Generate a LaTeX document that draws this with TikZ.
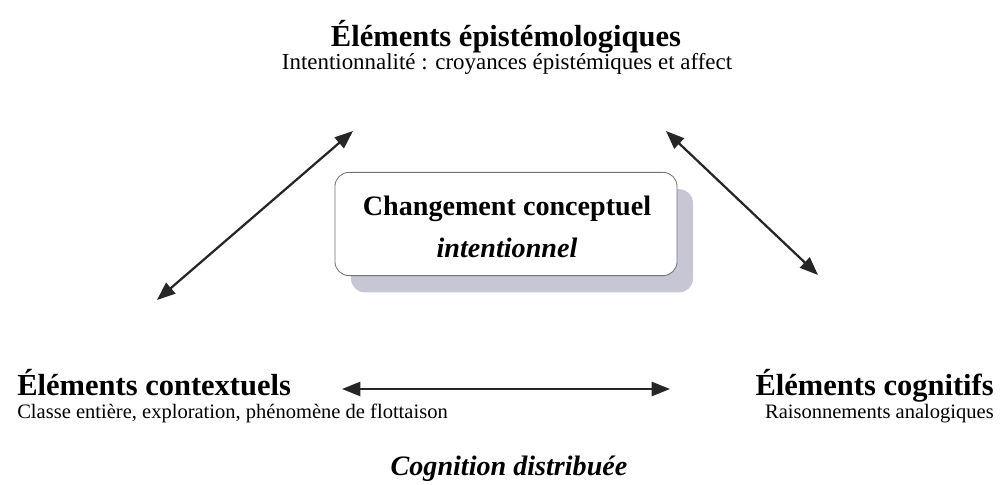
\documentclass[tikz,border=0pt]{standalone}
\usepackage{fontspec}
\setmainfont{Liberation Serif}
\usetikzlibrary{arrows.meta,shadows,positioning}
\definecolor{shadowgray}{RGB}{198,198,212}

\begin{document}
\begin{tikzpicture}[
    x=0.025cm, y=-0.025cm,
    heading/.style={font=\fontsize{21.7}{26}\selectfont\bfseries, inner sep=0pt, anchor=base},
    subhead/.style={font=\fontsize{14.6}{18}\selectfont, inner sep=0pt, anchor=base},
    concept/.style={rectangle, rounded corners=3.5mm, draw=black!55, line width=0.6pt, fill=white,
      minimum width=8.55cm, minimum height=2.58cm,
      drop shadow={shadow xshift=0.4cm, shadow yshift=-0.42cm, fill=shadowgray, opacity=1}},
    inside/.style={font=\fontsize{20}{24}\selectfont\bfseries, inner sep=0pt, anchor=base},
    link/.style={{Triangle[length=13pt,width=10pt]}-{Triangle[length=13pt,width=10pt]}, line width=1.6pt, black!85}
    ]
    \useasboundingbox (0,0) rectangle (1002,485);

    % top
    \node (epist) [heading] at (506,47) {Éléments épistémologiques};
    \node (epistsub) [subhead, font=\fontsize{16.3}{20}\selectfont] at (507,70) {Intentionnalité : croyances épistémiques et affect};

    % centre box
    \node (change) [concept] at (506,224) {};
    \node (changetop) [inside] at (507,216) {Changement conceptuel};
    \node (changebot) [inside, font=\fontsize{20}{24}\selectfont\bfseries\itshape] at (507,258) {intentionnel};

    % left and right
    \node (context) [heading, anchor=base west] at (17,395) {Éléments contextuels};
    \node (contextsub) [subhead, anchor=base west] at (17,418) {Classe entière, exploration, phénomène de flottaison};
    \node (cognit) [heading, anchor=base east] at (994,395) {Éléments cognitifs};
    \node (cognitsub) [subhead, anchor=base east] at (994,418) {Raisonnements analogiques};

    % bottom
    \node (distrib) [inside, font=\fontsize{20}{24}\selectfont\bfseries\itshape] at (509,475) {Cognition distribuée};

    % arrow ends
    \coordinate (cl) at (157,300);
    \coordinate (el) at (353,131);
    \coordinate (er) at (666,131);
    \coordinate (gr) at (818,275);
    \coordinate (hl) at (342,389);
    \coordinate (hr) at (670,389);

    \draw [link] (cl) -- (el);
    \draw [link] (er) -- (gr);
    \draw [link] (hl) -- (hr);
\end{tikzpicture}
\end{document}
